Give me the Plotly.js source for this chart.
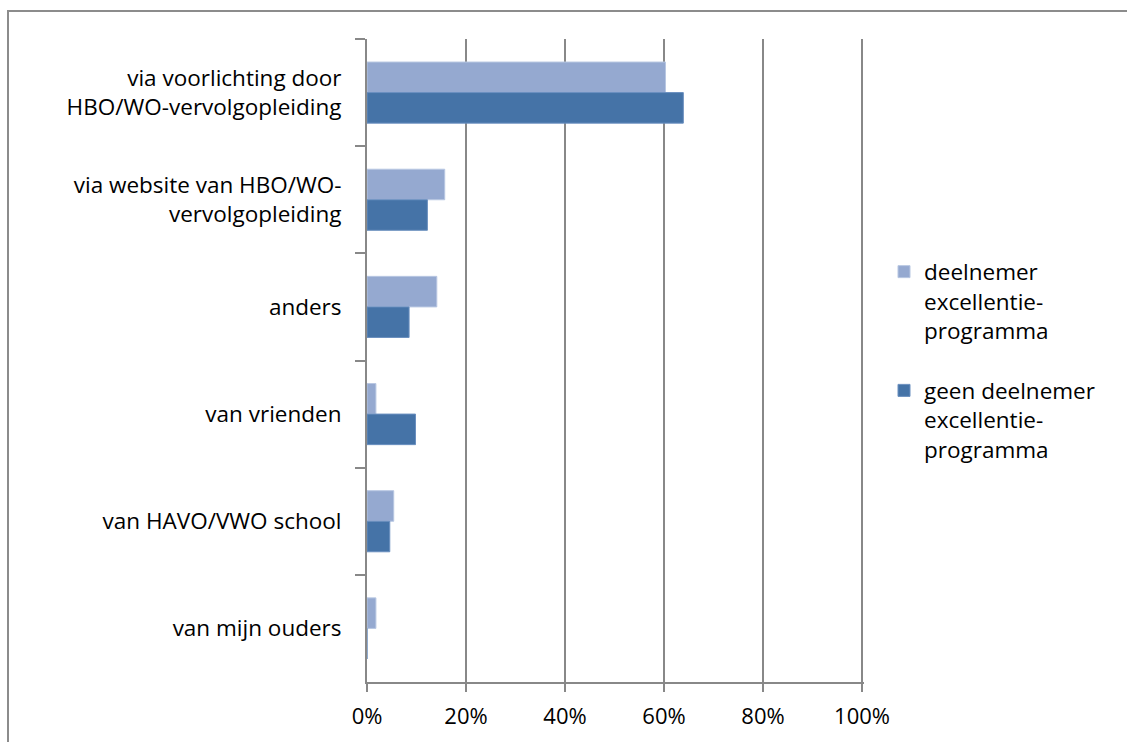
<!DOCTYPE html>
<html>
<head>
<meta charset="utf-8">
<script src="https://cdn.plot.ly/plotly-3.0.1.min.js"></script>
<style>
  html, body { margin: 0; padding: 0; background: #fff; }
  #chart { width: 1127px; height: 742px; }
</style>
</head>
<body>
<div id="chart"></div>
<script>
// Categories (top to bottom)
const categories = [
  "via voorlichting door<br>HBO/WO-vervolgopleiding",
  "via website van HBO/WO-<br>vervolgopleiding",
  "anders",
  "van vrienden",
  "van HAVO/VWO school",
  "van mijn ouders"
];
// Series values (percent)
const deelnemer = [60.3, 15.7, 14.1, 1.8, 5.4, 1.8];
const geenDeelnemer = [63.9, 12.2, 8.5, 9.8, 4.6, 0];
const seriesNames = [
  "deelnemer<br>excellentie-<br>programma",
  "geen deelnemer<br>excellentie-<br>programma"
];
const xTickVals = [0, 20, 40, 60, 80, 100];
const xTickLabels = ["0%", "20%", "40%", "60%", "80%", "100%"];

const FONT = "Open Sans, sans-serif";
const GRID = "#888888";

const traces = [
  {
    type: "bar", orientation: "h",
    y: categories, x: deelnemer,
    name: seriesNames[0], legendgroup: "a",
    marker: { color: "#95A9D0", line: { color: "#B8C7E2", width: 1 } },
    hoverinfo: "x+y"
  },
  {
    type: "bar", orientation: "h",
    y: categories, x: geenDeelnemer,
    name: seriesNames[1], legendgroup: "b",
    marker: { color: "#4573A7", line: { color: "#6A8FBF", width: 1 } },
    hoverinfo: "x+y"
  }
];

const XMAX = 100.4;
const L = 367, T = 39, B = 60;
const W = 1127, H = 742;
const pw = Math.round(495 * XMAX / 100);
const R = W - L - pw;
const ph = H - T - B;

const layout = {
  width: W, height: H,
  margin: { l: L, r: R, t: T, b: B, pad: 0 },
  paper_bgcolor: "#ffffff",
  plot_bgcolor: "#ffffff",
  font: { family: FONT, size: 22, color: "#000000" },
  barmode: "group",
  bargap: 0.43,
  bargroupgap: 0,
  showlegend: true,
  legend: {
    x: (884 - L) / pw, xanchor: "left",
    y: 0.5, yanchor: "middle",
    font: { family: FONT, size: 22.5, color: "#000" },
    traceorder: "grouped",
    tracegroupgap: 28,
    itemwidth: 30,
    valign: "top",
    bgcolor: "rgba(0,0,0,0)"
  },
  xaxis: {
    range: [0, XMAX],
    tickvals: xTickVals,
    ticktext: xTickLabels,
    showgrid: true,
    gridcolor: GRID, gridwidth: 2,
    showline: true, linecolor: GRID, linewidth: 2,
    ticks: "outside", ticklen: 8, tickcolor: GRID, tickwidth: 2,
    ticklabelstandoff: 6,
    zeroline: false,
    tickfont: { family: FONT, size: 22, color: "#000" },
    fixedrange: true
  },
  yaxis: {
    type: "category",
    autorange: "reversed",
    tickson: "boundaries",
    showgrid: false,
    showline: true, linecolor: GRID, linewidth: 2,
    ticks: "outside", ticklen: 10, tickcolor: GRID, tickwidth: 2,
    ticklabelstandoff: 19,
    zeroline: false,
    tickfont: { family: FONT, size: 22.5, color: "#000" },
    fixedrange: true
  },
  shapes: [
    {
      type: "rect", xref: "paper", yref: "paper",
      x0: (8 - L) / pw, x1: (W + 20 - L) / pw,
      y0: -(H + 20 - T - ph) / ph, y1: (ph + T - 11) / ph,
      line: { color: "#8c8c8c", width: 2 },
      fillcolor: "rgba(0,0,0,0)",
      layer: "below"
    }
  ]
};

Plotly.newPlot("chart", traces, layout, { displayModeBar: false, staticPlot: true });
</script>
</body>
</html>
